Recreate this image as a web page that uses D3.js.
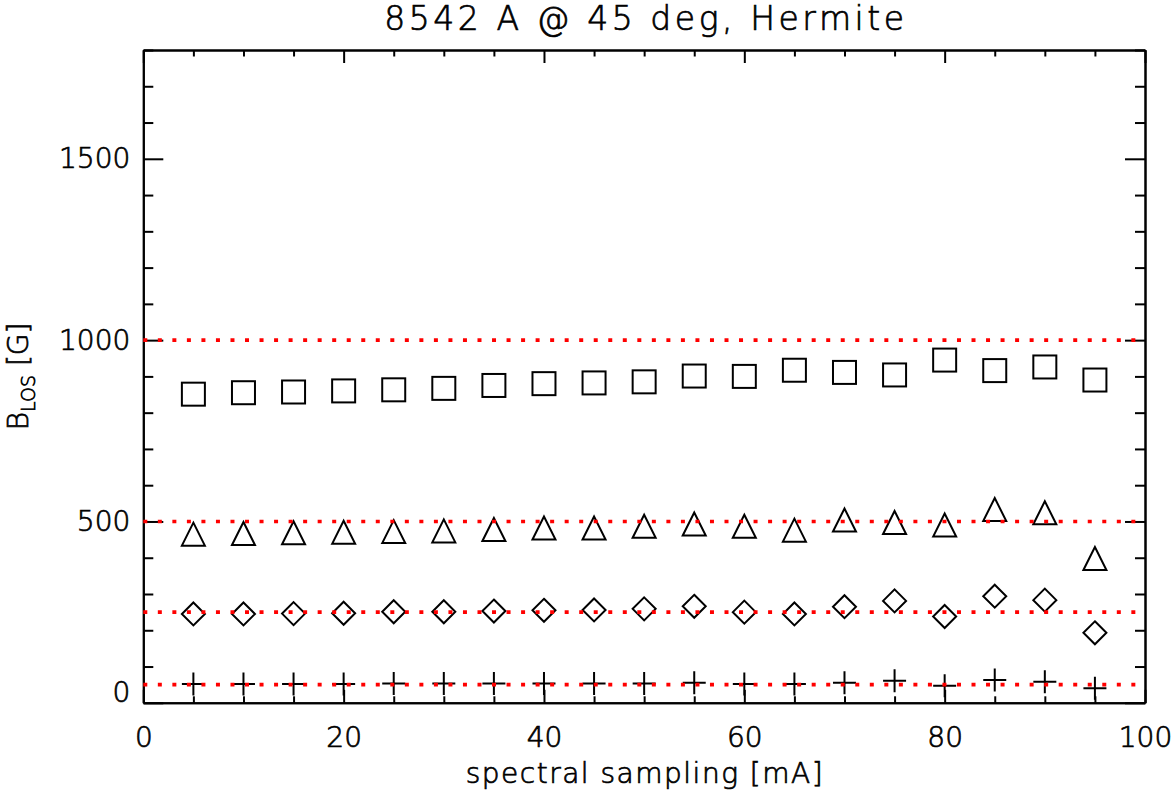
<!DOCTYPE html>
<html>
<head>
<meta charset="utf-8">
<script src="https://cdn.jsdelivr.net/npm/d3@7"></script>
<style>
  body { margin: 0; background: #fff; }
  text { font-family: "DejaVu Sans", sans-serif; font-weight: 200; fill: #000; stroke: #000; stroke-width: 0.7px; }
</style>
</head>
<body>
<div id="chart-area"></div>
<script>
// sampling steps [mA]
var sampling = [5, 10, 15, 20, 25, 30, 35, 40, 45, 50, 55, 60, 65, 70, 75, 80, 85, 90, 95];

// recovered B_LOS for each input field strength
var bSquare  = [851, 855, 857, 860, 863, 867, 875, 880, 882, 885, 901, 900, 917, 911, 904, 945, 916, 926, 890];
var bTriangle = [465, 467, 469, 470, 472, 474, 478, 482, 482, 487, 493, 487, 476, 504, 497, 490, 533, 524, 398];
var bDiamond = [245, 245, 246, 247, 251, 251, 253, 255, 256, 259, 266, 250, 245, 265, 281, 238, 294, 283, 193];
var bPlus    = [52, 52, 52, 52, 53, 53, 53, 53, 53, 53, 55, 52, 52, 55, 61, 47, 63, 58, 40];

// true input values (red dotted reference lines)
var bInput = [1000, 500, 250, 50];

var xTicks = [0, 20, 40, 60, 80, 100];
var yTicks = [0, 500, 1000, 1500];

var margin = { left: 143.3, right: 31, top: 50, bottom: 95.2 };
var width = 1176 - margin.left - margin.right;
var height = 798 - margin.top - margin.bottom;

var svg = d3.select("#chart-area")
	.append("svg")
	.attr("width", 1176)
	.attr("height", 798);

var g = svg.append("g")
	.attr("transform", "translate(" + margin.left + "," + margin.top + ")");

var x = d3.scaleLinear().domain([0, 100]).range([0, width]);
var y = d3.scaleLinear().domain([0, 1800]).range([height, 0]);

var xMinor = d3.range(0, 101, 5).filter(function(d){ return d % 20 !== 0; });
var yMinor = d3.range(0, 1801, 100).filter(function(d){ return d % 500 !== 0; });

function styleAxis(sel) {
	sel.selectAll("path").attr("stroke", "#000").attr("stroke-width", 2);
	sel.selectAll("line").attr("stroke", "#000").attr("stroke-width", 2);
	sel.selectAll("text").attr("font-size", "28px").attr("fill", "#000");
}

// bottom axis with labels
g.append("g")
	.attr("transform", "translate(0," + height + ")")
	.call(d3.axisBottom(x).tickValues(xTicks).tickSize(-13).tickSizeOuter(0).tickPadding(24).tickFormat(d3.format("d")))
	.call(styleAxis);
g.append("g")
	.attr("transform", "translate(0," + height + ")")
	.call(d3.axisBottom(x).tickValues(xMinor).tickSize(-6.5).tickSizeOuter(0).tickFormat(""))
	.call(styleAxis);

// top axis, ticks only
g.append("g")
	.call(d3.axisTop(x).tickValues(xTicks).tickSize(-13).tickSizeOuter(0).tickFormat(""))
	.call(styleAxis);
g.append("g")
	.call(d3.axisTop(x).tickValues(xMinor).tickSize(-6.5).tickSizeOuter(0).tickFormat(""))
	.call(styleAxis);

// left axis with labels
var yAxisG = g.append("g")
	.call(d3.axisLeft(y).tickValues(yTicks).tickSize(-20).tickSizeOuter(0).tickPadding(13).tickFormat(d3.format("d")))
	.call(styleAxis);
yAxisG.selectAll("text")
	.attr("dy", function(d){ return d === 0 ? "-0.04em" : "0.32em"; });
g.append("g")
	.call(d3.axisLeft(y).tickValues(yMinor).tickSize(-10).tickSizeOuter(0).tickFormat(""))
	.call(styleAxis);

// right axis, ticks only
g.append("g")
	.attr("transform", "translate(" + width + ",0)")
	.call(d3.axisRight(y).tickValues(yTicks).tickSize(-20).tickSizeOuter(0).tickFormat(""))
	.call(styleAxis);
g.append("g")
	.attr("transform", "translate(" + width + ",0)")
	.call(d3.axisRight(y).tickValues(yMinor).tickSize(-10).tickSizeOuter(0).tickFormat(""))
	.call(styleAxis);

// symbols
var r = 11.5;
function pts(arr) {
	return sampling.map(function(s, i){ return { s: s, b: arr[i] }; });
}

g.selectAll(".sq").data(pts(bSquare)).enter().append("rect")
	.attr("x", function(d){ return x(d.s) - r; })
	.attr("y", function(d){ return y(d.b) - r; })
	.attr("width", 2 * r).attr("height", 2 * r)
	.attr("fill", "none").attr("stroke", "#000").attr("stroke-width", 2);

g.selectAll(".tri").data(pts(bTriangle)).enter().append("path")
	.attr("d", function(d){
		var cx = x(d.s), cy = y(d.b);
		return "M" + (cx - r) + "," + (cy + r) + "L" + cx + "," + (cy - r) + "L" + (cx + r) + "," + (cy + r) + "Z";
	})
	.attr("fill", "none").attr("stroke", "#000").attr("stroke-width", 2).attr("stroke-linejoin", "miter");

g.selectAll(".dia").data(pts(bDiamond)).enter().append("path")
	.attr("d", function(d){
		var cx = x(d.s), cy = y(d.b);
		return "M" + cx + "," + (cy - r) + "L" + (cx + r) + "," + cy + "L" + cx + "," + (cy + r) + "L" + (cx - r) + "," + cy + "Z";
	})
	.attr("fill", "none").attr("stroke", "#000").attr("stroke-width", 2);

g.selectAll(".plus").data(pts(bPlus)).enter().append("path")
	.attr("d", function(d){
		var cx = x(d.s), cy = y(d.b);
		return "M" + (cx - r) + "," + cy + "H" + (cx + r) + "M" + cx + "," + (cy - r) + "V" + (cy + r);
	})
	.attr("fill", "none").attr("stroke", "#000").attr("stroke-width", 2);

// red dotted reference lines
g.selectAll(".ref").data(bInput).enter().append("line")
	.attr("x1", 0).attr("x2", width)
	.attr("y1", function(d){ return y(d); })
	.attr("y2", function(d){ return y(d); })
	.attr("stroke", "#ff0000")
	.attr("stroke-width", 3.6)
	.attr("stroke-dasharray", "4 10.53");

// title
svg.append("text")
	.attr("x", margin.left + width / 2)
	.attr("y", 30)
	.attr("text-anchor", "middle")
	.attr("font-size", "33px")
	.attr("textLength", 520)
	.attr("lengthAdjust", "spacing")
	.text("8542 A @ 45 deg, Hermite");

// X axis label
svg.append("text")
	.attr("x", margin.left + width / 2)
	.attr("y", 783)
	.attr("text-anchor", "middle")
	.attr("font-size", "28px")
	.attr("textLength", 357)
	.attr("lengthAdjust", "spacing")
	.text("spectral sampling [mA]");

// Y axis label
var yl = svg.append("text")
	.attr("transform", "translate(28," + (margin.top + height / 2) + ") rotate(-90)")
	.attr("text-anchor", "middle")
	.attr("font-size", "28px");
yl.append("tspan").text("B");
yl.append("tspan").attr("font-size", "19px").attr("dy", 7).text("LOS");
yl.append("tspan").attr("dy", -7).text(" [G]");
</script>
</body>
</html>
